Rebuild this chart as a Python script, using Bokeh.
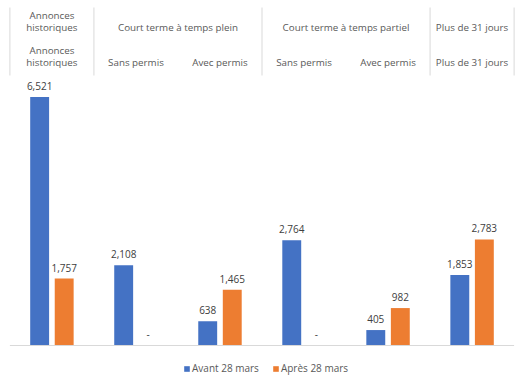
from bokeh.plotting import figure
from bokeh.models import Range1d, ColumnDataSource, LabelSet, Legend, LegendItem
from bokeh.embed import file_html
from bokeh.resources import INLINE
from bokeh.core.properties import value

# ---- data ----
top_groups = ["Annonces\nhistoriques", "Court terme à temps plein",
              "Court terme à temps partiel", "Plus de 31 jours"]
top_spans = [1, 2, 2, 1]
sub_cats = ["Annonces\nhistoriques", "Sans permis", "Avec permis",
            "Sans permis", "Avec permis", "Plus de 31 jours"]
avant = [6521, 2108, 638, 2764, 405, 1853]
apres = [1757, 0, 1465, 0, 982, 2783]
series_names = ["Avant 28 mars", "Après 28 mars"]

BLUE = "#4472C4"
ORANGE = "#ED7D31"
TXT = "#595959"
GRID = "#D9D9D9"
FONT = "Open Sans"

W, H = 526, 380
n = len(sub_cats)

p = figure(width=W, height=H, x_range=Range1d(-0.1, n + 0.1), y_range=Range1d(-919, 9055),
           output_backend="svg", toolbar_location=None,
           x_axis_type=None, y_axis_type=None,
           min_border_left=1, min_border_right=4, min_border_top=0, min_border_bottom=0)
p.outline_line_color = None
p.xgrid.visible = False
p.ygrid.visible = False
p.background_fill_color = "white"

# header range in pixels from top
p.extra_y_ranges = {"hdr": Range1d(start=H, end=0)}

LINE_H = 11.7

def add_label_lines(xs, labels, y_last):
    tx, ty, tt = [], [], []
    for x, lab in zip(xs, labels):
        lines = lab.split("\n")
        m = len(lines)
        for k, ln in enumerate(lines):
            tx.append(x)
            ty.append(y_last - (m - 1 - k) * LINE_H)
            tt.append(ln)
    p.text(x=tx, y=ty, text=tt, text_align="center", text_baseline="middle",
           text_font=value(FONT), text_font_size="9.8px", text_color=TXT,
           y_range_name="hdr")

bounds = [0]
for s in top_spans:
    bounds.append(bounds[-1] + s)
top_x = [(bounds[i] + bounds[i + 1]) / 2 for i in range(len(top_groups))]
add_label_lines(top_x, top_groups, 27)
sub_x = [i + 0.5 for i in range(n)]
add_label_lines(sub_x, sub_cats, 62)
p.segment(x0=bounds, x1=bounds, y0=[7] * len(bounds), y1=[75] * len(bounds),
          line_color=GRID, line_width=1, y_range_name="hdr")

# ---- bars ----
off = 0.146
bw = 0.225
fmt = lambda v: "-" if v == 0 else f"{v:,}"
src_a = ColumnDataSource(dict(x=[i + 0.5 - off for i in range(n)], y=avant,
                              lab=[fmt(v) for v in avant]))
src_b = ColumnDataSource(dict(x=[i + 0.5 + off for i in range(n)], y=apres,
                              lab=[fmt(v) for v in apres]))
ra = p.vbar(x="x", top="y", width=bw, source=src_a, fill_color=BLUE, line_color=None)
rb = p.vbar(x="x", top="y", width=bw, source=src_b, fill_color=ORANGE, line_color=None)

# category axis baseline
p.segment(x0=[0], x1=[n], y0=[0], y1=[0], line_color=GRID, line_width=1)

for src in (src_a, src_b):
    p.add_layout(LabelSet(x="x", y="y", text="lab", source=src, y_offset=11,
                          text_align="center", text_baseline="middle",
                          text_font=value(FONT), text_font_size="10px", text_color="#404040"))

legend = Legend(items=[LegendItem(label=series_names[0], renderers=[ra]),
                       LegendItem(label=series_names[1], renderers=[rb])],
                orientation="horizontal", location=(182, 5),
                label_text_font=FONT, label_text_font_size="10px", label_text_color=TXT,
                glyph_width=7, glyph_height=7, label_standoff=2, spacing=13,
                padding=0, margin=0, border_line_color=None, background_fill_alpha=0,
                label_height=12)
p.add_layout(legend)

open("out.html", "w").write(file_html(p, INLINE))
